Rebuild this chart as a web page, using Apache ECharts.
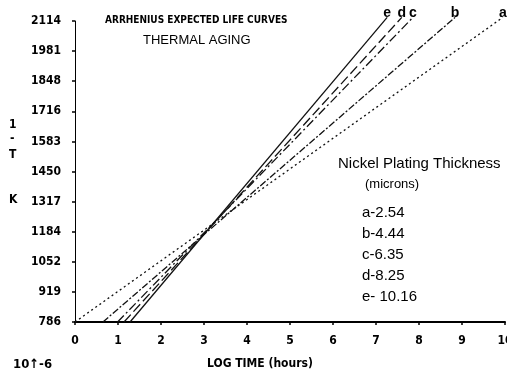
<!DOCTYPE html>
<html>
<head>
<meta charset="utf-8">
<script src="https://cdn.jsdelivr.net/npm/echarts@6/dist/echarts.min.js"></script>
<style>
html, body { margin: 0; padding: 0; background: #fff; }
#main { width: 507px; height: 381px; }
</style>
</head>
<body>
<div id="main"></div>
<script>
// curves: [log time, 1/T scale] at the bottom and at the top end
var curveNames = ['a', 'b', 'c', 'd', 'e'];
var lineA = [[0, 786], [9.95, 2130]];
var lineB = [[0.65, 786], [8.84, 2130]];
var lineC = [[0.99, 786], [7.86, 2130]];
var lineD = [[1.14, 786], [7.6, 2130]];
var lineE = [[1.28, 786], [7.26, 2130]];
var thickness = ['2.54', '4.44', '6.35', '8.25', ' 10.16'];
var yTickLabels = ['786', '919', '1052', '1184', '1317', '1450', '1583', '1716', '1848', '1981', '2114'];
var xTickLabels = ['0', '1', '2', '3', '4', '5', '6', '7', '8', '9', '10'];

var chart = echarts.init(document.getElementById('main'));

var tickFont = '"DejaVu Sans Condensed"';
var lineData = [lineA, lineB, lineC, lineD, lineE];
var dashes = [[2, 3], [7, 2, 2, 2], [9, 3, 2, 3], [10, 4], 'solid'];

var series = [];
for (var i = 0; i < curveNames.length; i++) {
	var pts = lineData[i];
	series.push({
		name: curveNames[i],
		type: 'line',
		symbol: 'circle',
		symbolSize: 0,
		showSymbol: true,
		clip: false,
		lineStyle: { color: '#111', width: 1.3, type: dashes[i] },
		data: [
			pts[0],
			{
				value: pts[1],
				label: {
					show: true, position: 'top', distance: -3,
					formatter: curveNames[i],
					color: '#000', fontSize: 14, fontWeight: 'bold',
					fontFamily: 'Liberation Sans'
				}
			}
		]
	});
}

// legend block text lines
var legendLines = [];
for (var j = 0; j < curveNames.length; j++) {
	legendLines.push({
		type: 'text', left: 362, top: 205 + j * 21,
		style: { text: curveNames[j] + '-' + thickness[j], font: '15px "Liberation Sans"', fill: '#000' }
	});
}

var option = {
	backgroundColor: '#fff',
	animation: false,
	grid: { left: 75, right: 2, top: 21, bottom: 59, containLabel: false, outerBoundsMode: 'none' },
	xAxis: {
		type: 'value', min: 0, max: 10, interval: 1,
		axisLine: { lineStyle: { color: '#000', width: 2 } },
		axisTick: { show: true, length: 3, lineStyle: { color: '#000', width: 1.5 } },
		splitLine: { show: false },
		axisLabel: {
			margin: 13, color: '#000', fontSize: 12, fontWeight: 'bold', fontFamily: tickFont,
			formatter: function (v) { return xTickLabels[Math.round(v)]; }
		}
	},
	yAxis: {
		type: 'value', min: 786, max: 2114, interval: 132.8,
		axisLine: { show: true, lineStyle: { color: '#000', width: 1 } },
		axisTick: { show: true, length: 3, lineStyle: { color: '#000', width: 1.5 } },
		splitLine: { show: false },
		axisLabel: {
			margin: 14, color: '#000', fontSize: 12, fontWeight: 'bold', fontFamily: tickFont,
			formatter: function (v) { return yTickLabels[Math.round((v - 786) / 132.8)]; }
		}
	},
	graphic: [
		{ type: 'text', left: 105, top: 15, style: { text: 'ARRHENIUS EXPECTED LIFE CURVES', font: 'bold 10px "DejaVu Sans Condensed"', fill: '#000' } },
		{ type: 'text', left: 143, top: 34, style: { text: 'THERMAL AGING', font: '13px "Liberation Sans"', fill: '#000' } },
		{ type: 'text', left: 338, top: 156, style: { text: 'Nickel Plating Thickness', font: '15px "Liberation Sans"', fill: '#000' } },
		{ type: 'text', left: 365, top: 178, style: { text: '(microns)', font: '13px "Liberation Sans"', fill: '#000' } },
		{ type: 'text', left: 9, top: 119, style: { text: '1', font: 'bold 12px "DejaVu Sans Condensed"', fill: '#000' } },
		{ type: 'text', left: 10, top: 133, style: { text: '-', font: 'bold 12px "DejaVu Sans Condensed"', fill: '#000' } },
		{ type: 'text', left: 9, top: 149, style: { text: 'T', font: 'bold 12px "DejaVu Sans Condensed"', fill: '#000' } },
		{ type: 'text', left: 9, top: 194, style: { text: 'K', font: 'bold 12px "DejaVu Sans Condensed"', fill: '#000' } },
		{ type: 'text', left: 13, top: 358, style: { text: '10\u2191-6', font: 'bold 13px "DejaVu Sans Condensed"', fill: '#000' } },
		{ type: 'text', left: 207, top: 358, style: { text: 'LOG TIME (hours)', font: 'bold 12px "DejaVu Sans Condensed"', fill: '#000' } }
	].concat(legendLines),
	series: series
};

chart.setOption(option);
</script>
</body>
</html>
